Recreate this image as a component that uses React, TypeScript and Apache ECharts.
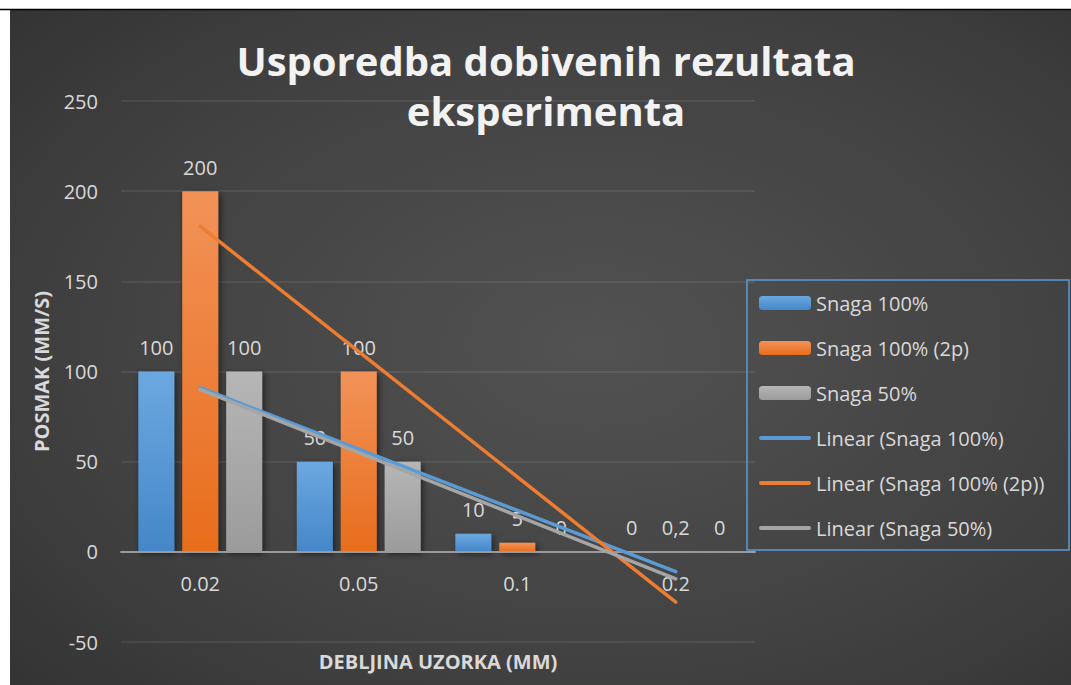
import React, { useEffect, useRef } from "react";
import * as echarts from "echarts";

// Sample thickness categories (x axis)
const categories = ["0.02", "0.05", "0.1", "0.2"];

// Feed rate (mm/s) per power setting
const snaga100 = [100, 50, 10, 0];
const snaga100_2p = [200, 100, 5, 0.2];
const snaga50 = [100, 50, 0, 0];

const seriesNames = ["Snaga 100%", "Snaga 100% (2p)", "Snaga 50%"];
const trendNames = ["Linear (Snaga 100%)", "Linear (Snaga 100% (2p))", "Linear (Snaga 50%)"];

// Y axis ticks
const yMin = -50;
const yMax = 250;
const yStep = 50;

const FONT = "'Open Sans', 'DejaVu Sans', sans-serif";
const TEXT = "#d9d9d9";
const LINE_ICON = "path://M2,0H50A2,2,0,0,1,50,4H2A2,2,0,0,1,2,0Z";

// Plot rectangle
const GRID_TOP = 101;
const GRID_BOTTOM = 43;
const CHART_H = 685;

// Least-squares linear trend over category positions 1..n
function linearTrend(values: number[]): number[] {
  const n = values.length;
  const xs = values.map((_, i) => i + 1);
  const mx = xs.reduce((a, b) => a + b, 0) / n;
  const my = values.reduce((a, b) => a + b, 0) / n;
  let sxy = 0;
  let sxx = 0;
  for (let i = 0; i < n; i++) {
    sxy += (xs[i] - mx) * (values[i] - my);
    sxx += (xs[i] - mx) * (xs[i] - mx);
  }
  const slope = sxy / sxx;
  const icpt = my - slope * mx;
  return xs.map((x) => +(icpt + slope * x).toFixed(4));
}

function vGrad(top: string, bottom: string) {
  return new echarts.graphic.LinearGradient(0, 0, 0, 1, [
    { offset: 0, color: top },
    { offset: 1, color: bottom },
  ]);
}

export default function App() {
  const ref = useRef<HTMLDivElement>(null);

  useEffect(() => {
    if (!ref.current) return;
    const chart = echarts.init(ref.current, null, { renderer: "svg" });

    const barColors = [
      vGrad("#6ca8e0", "#4487c8"),
      vGrad("#f29258", "#e86d1c"),
      vGrad("#b6b6b6", "#9b9b9b"),
    ];
    const lineColors = ["#5b9bd5", "#ed7d31", "#a5a5a5"];
    const barData = [snaga100, snaga100_2p, snaga50];

    // Lift the category axis from the plot bottom up to the value 0
    const plotH = CHART_H - GRID_TOP - GRID_BOTTOM;
    const zeroOffset = -(plotH * (0 - yMin)) / (yMax - yMin);

    const label = {
      show: true,
      position: "top",
      distance: 14,
      color: TEXT,
      fontSize: 20,
      fontFamily: FONT,
      formatter: (p: any) => String(p.value).replace(".", ","),
    };

    const bars = barData.map((d, i) => ({
      name: seriesNames[i],
      type: "bar",
      data: d,
      barWidth: 36,
      barGap: "22%",
      itemStyle: {
        color: barColors[i],
        shadowColor: "rgba(0,0,0,0.55)",
        shadowBlur: 6,
        shadowOffsetX: 2,
        shadowOffsetY: 2,
      },
      label,
      z: 2,
    }));

    const trends = barData.map((d, i) => ({
      name: trendNames[i],
      type: "line",
      data: linearTrend(d),
      symbol: "none",
      lineStyle: { color: lineColors[i], width: 3.5, cap: "round" },
      itemStyle: { color: lineColors[i] },
      z: 5,
    }));

    const titleStyle = {
      font: `bold 40px ${FONT}`,
      fill: "#f2f2f2",
      align: "center",
      verticalAlign: "middle",
      shadowColor: "rgba(0,0,0,0.7)",
      shadowBlur: 4,
      shadowOffsetX: 2,
      shadowOffsetY: 2,
    };

    chart.setOption({
      animation: false,
      backgroundColor: "#ffffff",
      graphic: [
        {
          type: "rect",
          shape: { x: 10, y: 10, width: 1061, height: 675 },
          style: {
            fill: new echarts.graphic.RadialGradient(0.55, 0.5, 1, [
              { offset: 0, color: "#525252" },
              { offset: 0.5, color: "#404040" },
              { offset: 1, color: "#262626" },
            ]),
          },
          z: -10,
          silent: true,
        },
        {
          type: "line",
          shape: { x1: 0, y1: 9.5, x2: 1071, y2: 9.5 },
          style: { stroke: "#000000", lineWidth: 1.5 },
          silent: true,
        },
        {
          type: "rect",
          shape: { x: 747, y: 280, width: 322, height: 270 },
          style: { fill: "none", stroke: "#5b9bd5", lineWidth: 1.5 },
          z: 10,
          silent: true,
        },
        {
          type: "text",
          x: 546,
          y: 60,
          style: { ...titleStyle, text: "Usporedba dobivenih rezultata" },
          z: 10,
        },
        {
          type: "text",
          x: 546,
          y: 110,
          style: { ...titleStyle, text: "eksperimenta" },
          z: 10,
        },
      ],
      legend: {
        orient: "vertical",
        left: 759,
        top: 293,
        padding: 0,
        itemWidth: 52,
        itemHeight: 14,
        itemGap: 25,
        data: [
          ...seriesNames.map((n) => ({ name: n })),
          ...trendNames.map((n) => ({ name: n, icon: LINE_ICON })),
        ],
        textStyle: {
          color: TEXT,
          fontSize: 20,
          fontFamily: FONT,
          lineHeight: 20,
        },
      },
      grid: {
        left: 121,
        right: 316,
        top: GRID_TOP,
        bottom: GRID_BOTTOM,
        outerBoundsMode: "none",
        containLabel: false,
      },
      xAxis: {
        type: "category",
        data: categories,
        position: "bottom",
        offset: zeroOffset,
        axisLine: { onZero: false, lineStyle: { color: "#9a9a9a", width: 2 } },
        axisTick: { show: false },
        axisLabel: { color: TEXT, fontSize: 20, fontFamily: FONT, margin: 22 },
        name: "DEBLJINA UZORKA (MM)",
        nameLocation: "middle",
        nameGap: 100,
        nameTextStyle: { color: TEXT, fontSize: 20, fontWeight: "bold", fontFamily: FONT },
        z: 3,
      },
      yAxis: {
        type: "value",
        min: yMin,
        max: yMax,
        interval: yStep,
        axisLine: { show: false },
        axisTick: { show: false },
        axisLabel: { color: TEXT, fontSize: 20, fontFamily: FONT, margin: 23 },
        splitLine: { lineStyle: { color: "rgba(255,255,255,0.1)", width: 1.5 } },
        name: "POSMAK (MM/S)",
        nameLocation: "middle",
        nameGap: 70,
        nameTextStyle: { color: TEXT, fontSize: 20, fontWeight: "bold", fontFamily: FONT },
      },
      series: [...bars, ...trends],
    });

    return () => chart.dispose();
  }, []);

  return (
    <div
      ref={ref}
      style={{ position: "absolute", left: 0, top: 0, width: 1071, height: 685 }}
    />
  );
}
